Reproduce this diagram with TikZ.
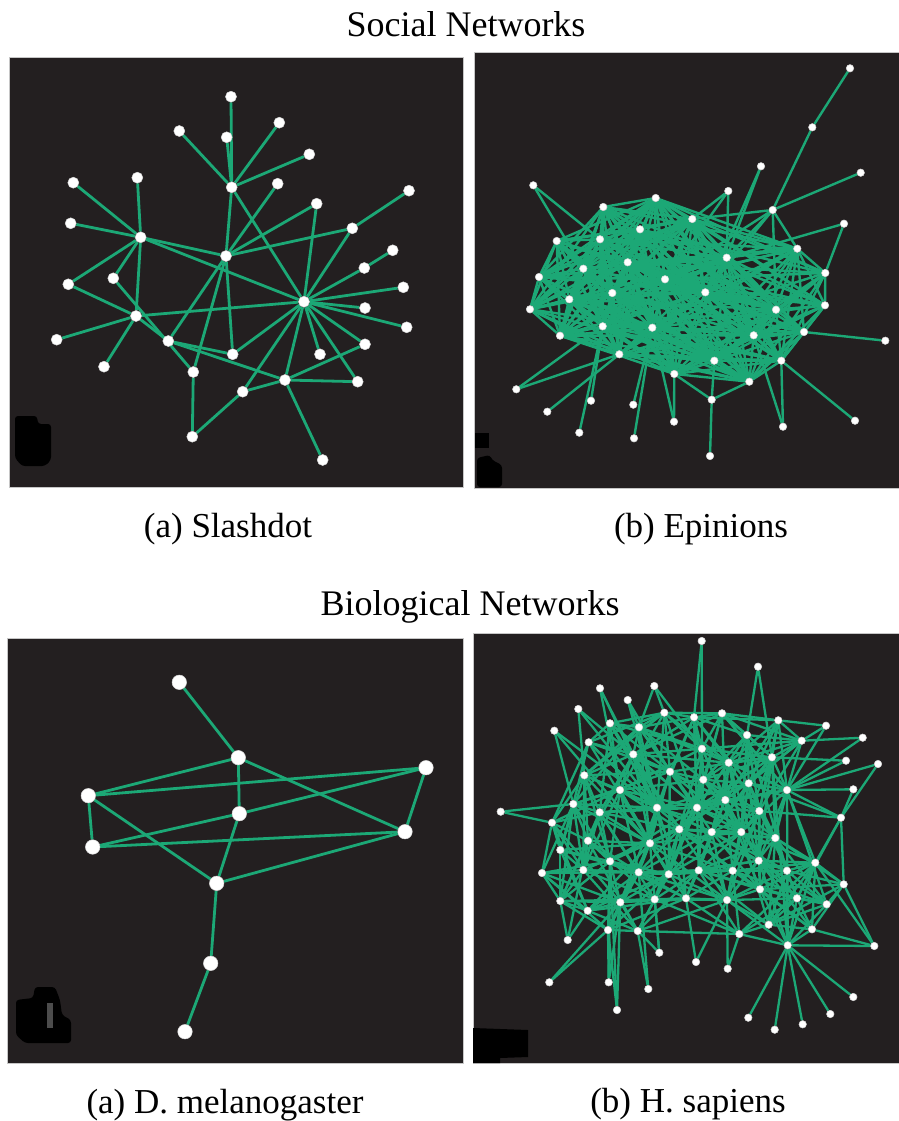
\documentclass[tikz,border=0pt]{standalone}
\usepackage{fontspec}
\setmainfont{Liberation Serif}
\pgfdeclarelayer{panel}
\pgfdeclarelayer{edges}
\pgfsetlayers{panel,edges,main}
\definecolor{panelbg}{HTML}{231F20}
\definecolor{edgegreen}{RGB}{28,168,118}
\newdimen\mydx
\newdimen\mydy
\makeatletter
\newcommand\mydist[2]{\pgfpointdiff{\pgfpointanchor{#1}{center}}{\pgfpointanchor{#2}{center}}\mydx=\pgf@x\relax\mydy=\pgf@y\relax\pgfmathveclen{\mydx}{\mydy}}
\makeatother
\tikzset{
  panelbox/.style={fill=panelbg,draw=gray!45,line width=0.8pt},
  blob/.style={fill=black,rounded corners=3pt},
  ttl/.style={anchor=base,inner sep=0pt,font=\fontsize{35}{40}\selectfont},
  bigttl/.style={anchor=base,inner sep=0pt,font=\fontsize{36}{40}\selectfont},
  dotbase/.style={circle,fill=white,draw=gray!30,line width=0.5pt,inner sep=0pt},
  sdot/.style={dotbase,minimum size=11pt},
  edot/.style={dotbase,minimum size=7.5pt},
  mdot/.style={dotbase,minimum size=14.5pt},
  hdot/.style={dotbase,minimum size=7.5pt},
  sedge/.style={draw=edgegreen,line width=2.8pt},
  eedge/.style={draw=edgegreen,line width=2.4pt},
  medge/.style={draw=edgegreen,line width=2.8pt},
  hedge/.style={draw=edgegreen,line width=2.3pt},
}
\def\Ecore{9,10,11,12,13,14,15,16,17,18,19,20,21,22,23,24,25,26,27,28,29,30,31,32,34,35,36,37,38}
\def\Hcore{7,8,9,10,14,15,16,17,18,19,20,21,22,25,26,27,28,29,31,33,34,35,36,37,38,39,40,41,42,43,44,45,46,47,48,49,50,51,52,53,54,55,56,57,58,59,60,61,62,63,64,65,66,67,68,69,70,71,72,74}
\begin{document}
\begin{tikzpicture}[x=1pt,y=-1pt]
\useasboundingbox (0,0) rectangle (898,1121);
% panels
\begin{pgfonlayer}{panel}
\path[fill=white] (0,0) rectangle (898,1121);
\path[panelbox] (9,57) rectangle (463,487);
\path[panelbox] (474,52) rectangle (899,488);
\path[panelbox] (7,638) rectangle (463,1063);
\path[panelbox] (473,633) rectangle (899,1063);
% corner blobs
\path[blob] (15,416) -- (37,416) -- (38,424) -- (51,424) -- (51,460) -- (45,466) -- (22,466) -- (15,458) -- cycle;
\path[fill=black] (475,433) rectangle (489,448);
\path[blob] (477,458) -- (490,455) -- (492,460) -- (502,465) -- (502,487) -- (477,487) -- cycle;
\path[blob] (16,1000) -- (33,998) -- (35,987) -- (55,987) -- (60,1000) -- (62,1015) -- (71,1020) -- (71,1043) -- (25,1043) -- (16,1035) -- cycle;
\path[fill=gray!60!black] (47,1003) -- (53,1003) -- (53,1028) -- (47,1028) -- cycle;
\path[fill=black] (473,1028) -- (528,1030) -- (528,1057) -- (500,1058) -- (500,1063) -- (473,1063) -- cycle;
\end{pgfonlayer}
% texts
\node[bigttl] (t1) at (466,37) {Social Networks};
\node[ttl] (c1) at (228,537) {(a) Slashdot};
\node[ttl] (c2) at (701,537) {(b) Epinions};
\node[bigttl] (t2) at (470,615) {Biological Networks};
\node[ttl] (c3) at (225,1113) {(a) D. melanogaster};
\node[ttl] (c4) at (688,1112) {(b) H. sapiens};
% ---------- Slashdot
\foreach \n/\x/\y in {1/231/96.7, 2/226.7/137.3, 3/179.3/131, 4/279.3/122.7, 5/309.3/154.3, 6/231.7/187.3, 7/277.7/183.7, 8/73.3/182.7, 9/137.3/177.7, 10/70.7/223.3, 11/140.7/237.3, 12/226/256, 13/316.7/203.7, 14/409/190.7, 15/352.3/228.3, 16/392.7/250.3, 17/364.3/268, 18/403.3/287.3, 19/304/301.7, 20/365/308, 21/406.7/327.3, 22/68.3/284.3, 23/113.3/278.3, 24/136/316, 25/56.7/339.7, 26/104/366.7, 27/168.3/341, 28/232.7/354.3, 29/320/354.3, 30/365/344.3, 31/193.3/372, 32/285/380, 33/357.7/381.7, 34/242.7/391.7, 35/192.3/436.7, 36/322.7/460}
  \node[sdot] (s\n) at (\x,\y) {};
\begin{pgfonlayer}{edges}
\foreach \a/\b in {1/6, 2/6, 3/6, 4/6, 5/6, 6/12, 6/19, 7/12, 13/12, 13/19, 15/12, 14/15, 15/19, 16/17, 17/19, 18/19, 20/19, 21/19, 30/19, 29/19, 33/19, 32/19, 34/19, 28/19, 35/34, 34/32, 32/30, 32/33, 32/36, 11/8, 11/9, 11/10, 11/22, 11/23, 11/24, 11/12, 11/19, 24/25, 24/26, 24/19, 24/27, 22/24, 23/31, 27/12, 27/28, 27/32, 31/12, 31/35, 28/12}
  \draw[sedge] (s\a) -- (s\b);
\end{pgfonlayer}
% ---------- Epinions
\foreach \n/\x/\y in {1/850/68.3, 2/812.3/127.3, 3/761/166.3, 4/860.7/172.7, 5/533.3/185.3, 6/728.3/191, 7/772.7/210, 8/844/223.7, 9/655.7/198, 10/603.3/207, 11/692.3/219, 12/640/229.3, 13/556.7/241, 14/600/239.3, 15/797.3/248.7, 16/726.7/257.7, 17/627.7/262.3, 18/583.3/268.7, 19/825.3/273, 20/539/277, 21/665/279.3, 22/705.3/292.3, 23/612.3/293, 24/569.3/299.3, 25/530/309.3, 26/776/309.7, 27/825/305.3, 28/602.7/326.3, 29/652.3/327.7, 30/560/335.7, 31/753.7/335.3, 32/804/332, 33/885.3/340.7, 34/619.3/354.3, 35/714.3/360.7, 36/781.3/360.7, 37/674.3/374, 38/749.3/381.7, 39/516.3/389.3, 40/591/400.7, 41/633.3/404.7, 42/711.7/399.7, 43/547.3/411.7, 44/674/421.7, 45/855/420.7, 46/783/426.7, 47/579.3/432.7, 48/634/438.3, 49/710/456}
  \node[edot] (e\n) at (\x,\y) {};
\begin{pgfonlayer}{edges}
\foreach \a/\b in {1/2, 2/7, 4/7, 7/16, 7/15, 7/22, 7/26, 7/11, 7/21, 3/16, 3/22, 6/16, 6/11, 6/21, 8/16, 8/19, 5/14, 5/18, 33/32, 39/28, 39/34, 43/34, 40/28, 47/28, 41/29, 48/29, 44/29, 44/37, 42/35, 42/37, 42/38, 49/42, 46/36, 46/31, 45/36}
  \draw[eedge] (e\a) -- (e\b);
\foreach \i in \Ecore {\foreach \j in \Ecore {%
  \ifnum\i<\j\relax
    \pgfmathtruncatemacro\hh{mod(\i*7+\j*13,10)}%
    \mydist{e\i}{e\j}%
    \ifdim\pgfmathresult pt<210pt\relax
      \ifnum\hh<9\relax \draw[eedge] (e\i) -- (e\j);\fi
    \fi
  \fi}}
\end{pgfonlayer}
% ---------- D. melanogaster
\foreach \n/\x/\y in {1/179.3/682.3, 2/238.3/757.7, 3/426/767.7, 4/88.3/795.7, 5/239.3/813.7, 6/405/831.7, 7/92.7/847, 8/216.7/883.3, 9/210.7/963.3, 10/185/1031.7}
  \node[mdot] (m\n) at (\x,\y) {};
\begin{pgfonlayer}{edges}
\foreach \a/\b in {1/2, 2/4, 2/5, 2/6, 4/3, 4/7, 4/8, 7/5, 5/3, 7/6, 5/8, 8/6, 3/6, 8/9, 9/10}
  \draw[medge] (m\a) -- (m\b);
\end{pgfonlayer}
% ---------- H. sapiens
\foreach \n/\x/\y in {1/701.7/641, 2/758/666.7, 3/600/688.3, 4/654.3/686, 5/627.7/700, 6/578.3/709, 7/664.3/712.7, 8/694/717.3, 9/722/713.3, 10/778.3/720.3, 11/826/725.7, 12/862.7/737.7, 13/554.3/730.7, 14/610/723.3, 15/639/727.3, 16/747/735, 17/801.7/740.7, 18/588.7/742.3, 19/702/748.7, 20/633.3/754.3, 21/772/757.3, 22/728.7/762.7, 23/846/760.7, 24/878/764, 25/670/771.7, 26/703.3/779.7, 27/584.3/775.3, 28/748.7/783.3, 29/787/790, 30/853.3/789.3, 31/620/790, 32/500.7/811.7, 33/573.3/804, 34/599.7/812.3, 35/657/807.7, 36/697/807.7, 37/725.3/800, 38/759.3/811, 39/552/822.7, 40/841/817.7, 41/679.3/829.3, 42/711.7/832, 43/741.3/832, 44/588/840.7, 45/650/843.3, 46/775.3/838, 47/560.3/850, 48/610/861.3, 49/758.7/860.7, 50/542/873, 51/583.3/870, 52/638.7/872.3, 53/668.7/874.3, 54/698.7/870.3, 55/732.7/870.7, 56/787/870.7, 57/815.3/862.7, 58/843.7/884.3, 59/760/889.3, 60/620.3/902.3, 61/654.7/899.3, 62/686/898.3, 63/727/900, 64/797/898.3, 65/560.3/901, 66/826.7/904.3, 67/587.7/910.7, 68/768.7/924.7, 69/812/929.3, 70/608/930, 71/637.7/931, 72/739.3/934, 73/567.7/940, 74/787.7/945.3, 75/874.3/946, 76/659.3/952.7, 77/696/962, 78/727.7/968.7, 79/549.3/982.3, 80/608.7/982.3, 81/648.3/989, 82/853.3/997, 83/617/1010, 84/748.3/1017.7, 85/830.3/1014, 86/802.7/1024.3, 87/774.7/1029.7}
  \node[hdot] (h\n) at (\x,\y) {};
\begin{pgfonlayer}{edges}
\foreach \a/\b in {1/8, 1/19, 2/16, 2/21, 3/35, 3/20, 3/31, 4/7, 4/15, 4/19, 5/15, 5/35, 5/25, 6/35, 6/27, 6/36, 13/35, 13/33, 13/45, 14/35, 14/41, 18/35, 18/53, 32/39, 32/33, 79/70, 79/60, 80/70, 80/60, 80/48, 83/70, 83/60, 83/48, 81/71, 81/52, 76/61, 76/45, 76/71, 77/62, 77/63, 78/72, 78/63, 73/44, 73/67, 73/65, 84/74, 87/74, 86/74, 85/74, 82/74, 75/74, 75/58, 75/69, 75/57, 12/29, 23/29, 24/29, 30/29, 11/29, 11/17, 11/10, 12/17, 23/21, 24/40, 30/40, 10/29, 9/29, 16/56, 29/74, 29/66, 21/74, 8/36, 7/36, 20/36, 15/45, 25/53}
  \draw[hedge] (h\a) -- (h\b);
\foreach \i in \Hcore {\foreach \j in \Hcore {%
  \ifnum\i<\j\relax
    \pgfmathtruncatemacro\hh{mod(\i*7+\j*13,10)}%
    \mydist{h\i}{h\j}%
    \ifdim\pgfmathresult pt<105pt\relax
      \ifnum\hh<7\relax \draw[hedge] (h\i) -- (h\j);\fi
    \fi
  \fi}}
\end{pgfonlayer}
\end{tikzpicture}
\end{document}
